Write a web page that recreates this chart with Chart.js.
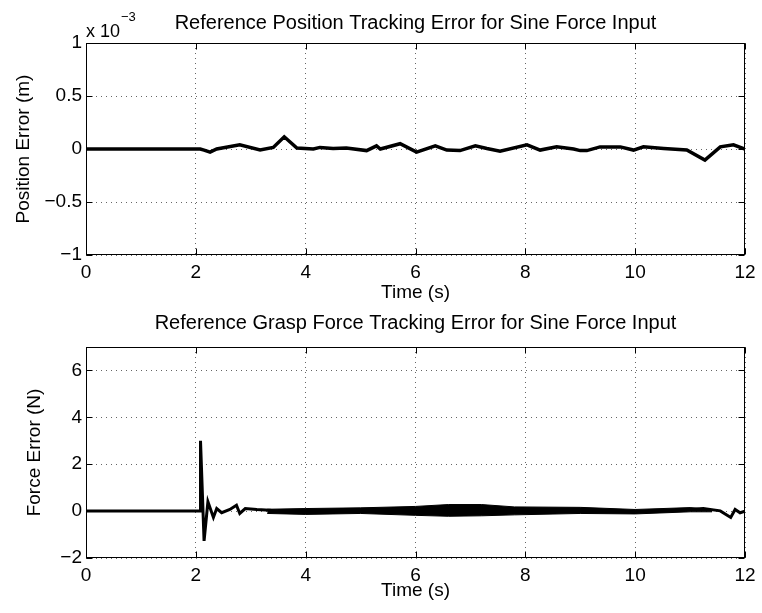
<!DOCTYPE html>
<html>
<head>
<meta charset="utf-8">
<script src="https://cdn.jsdelivr.net/npm/chart.js@4.4.1/dist/chart.umd.min.js"></script>
<style>
  body { margin: 0; background: #fff; }
  .panel { position: absolute; left: 0; width: 762px; }
  #top { top: 0; height: 306px; }
  #bottom { top: 306px; height: 307px; }
</style>
</head>
<body>
<div class="panel" id="top"><canvas id="posChart" width="762" height="306"></canvas></div>
<div class="panel" id="bottom"><canvas id="forceChart" width="762" height="307"></canvas></div>
<script>
// time axis (s)
const timeTicks = [0, 2, 4, 6, 8, 10, 12];

// position error, in units of 1e-3 m
const posTime = [0, 2.08, 2.15, 2.26, 2.38, 2.8, 3.17, 3.41, 3.61, 3.84, 4.14, 4.26, 4.5, 4.74, 5.11, 5.29, 5.36,
  5.72, 6.02, 6.36, 6.57, 6.81, 7.09, 7.3, 7.54, 8.03, 8.27, 8.57, 8.88, 9.0, 9.12, 9.36, 9.73, 9.97,
  10.15, 10.52, 10.94, 11.27, 11.55, 11.79, 12];
const posError = [0, 0, -0.01, -0.03, 0.0, 0.04, -0.01, 0.015, 0.115, 0.01, 0, 0.015, 0.005, 0.01, -0.015, 0.03, 0.0,
  0.05, -0.03, 0.03, -0.01, -0.015, 0.03, 0.005, -0.02, 0.04, -0.01, 0.02, 0.0, -0.015, -0.015, 0.02, 0.02, -0.01,
  0.02, 0.005, -0.01, -0.105, 0.02, 0.04, 0.0];
const posTickValues = [-1, -0.5, 0, 0.5, 1];
const posTickLabels = ['\u22121', '\u22120.5', '0', '0.5', '1'];

// grasp force error (N)
const forceTime = [0, 2.08, 2.085, 2.15, 2.22, 2.32, 2.38, 2.47, 2.62, 2.74, 2.8, 2.9, 3.11, 3.35, 3.53, 3.9,
  4.32, 4.81, 5.29, 5.66, 6.14, 6.75, 6.99, 7.72, 8.33, 9.0, 9.97, 10.58, 11.24, 11.55, 11.74, 11.82, 11.91, 12];
const forceError = [0, 0, 3.0, -1.27, 0.4, -0.27, 0.11, -0.07, 0.07, 0.25, -0.1, 0.11, 0.07, 0.04, -0.03, -0.06,
  -0.03, 0.04, 0.07, -0.03, 0.04, 0.07, 0.07, 0.0, 0.0, 0.07, -0.03, 0.01, 0.11, 0.01, -0.27, 0.07, -0.07, 0];
// spread of the noisy part of the force trace
const forceBandTime = [3.3, 4.0, 5.0, 6.0, 6.6, 7.2, 7.8, 9.0, 10.0, 11.0, 11.4];
const forceBandUpper = [0.08, 0.11, 0.14, 0.2, 0.28, 0.28, 0.18, 0.16, 0.07, 0.15, 0.06];
const forceBandLower = [-0.1, -0.14, -0.1, -0.18, -0.22, -0.2, -0.16, -0.1, -0.12, -0.03, -0.03];
const forceTickValues = [-2, 0, 2, 4, 6];
const forceTickLabels = ['\u22122', '0', '2', '4', '6'];

const FONT = "'Liberation Sans', Arial, Helvetica, sans-serif";
Chart.defaults.color = '#000';
Chart.defaults.font.family = FONT;

const pts = (xs, ys) => xs.map((x, i) => ({ x: x, y: ys[i] }));

// box round the plot, inward tick marks and the plot title, like the original figure
const boxAxes = {
  id: 'boxAxes',
  afterDraw(chart, args, opts) {
    const { ctx, chartArea: a, scales } = chart;
    const L = Math.round(a.left) + 0.5, R = Math.round(a.right) - 0.5;
    const T = Math.round(a.top) + 0.5, B = Math.round(a.bottom) - 0.5;
    ctx.save();
    ctx.strokeStyle = '#000';
    ctx.lineWidth = 1;
    ctx.beginPath();
    scales.x.ticks.forEach(t => {
      const px = Math.round(scales.x.getPixelForValue(t.value)) + 0.5;
      ctx.moveTo(px, B); ctx.lineTo(px, B - 6);
      ctx.moveTo(px, T); ctx.lineTo(px, T + 6);
    });
    scales.y.ticks.forEach(t => {
      const py = Math.round(scales.y.getPixelForValue(t.value)) + 0.5;
      ctx.moveTo(L, py); ctx.lineTo(L + 6, py);
      ctx.moveTo(R, py); ctx.lineTo(R - 6, py);
    });
    ctx.stroke();
    ctx.strokeRect(L, T, R - L, B - T);

    ctx.fillStyle = '#000';
    ctx.textAlign = 'center';
    ctx.textBaseline = 'alphabetic';
    ctx.font = '20px ' + FONT;
    ctx.fillText(opts.title, (a.left + a.right) / 2, opts.titleBaseline);
    ctx.restore();
  }
};

// "x 10^-3" multiplier over the top axis
const exponentLabel = {
  id: 'exponentLabel',
  afterDraw(chart) {
    const ctx = chart.ctx;
    ctx.save();
    ctx.fillStyle = '#000';
    ctx.textBaseline = 'alphabetic';
    ctx.textAlign = 'left';
    ctx.font = '18px ' + FONT;
    ctx.fillText('x 10', chart.chartArea.left, 36.5);
    const w = ctx.measureText('x 10').width;
    ctx.font = '13px ' + FONT;
    ctx.fillText('\u22123', chart.chartArea.left + w + 1, 21);
    ctx.restore();
  }
};

function makeOptions(cfg) {
  return {
    responsive: false,
    animation: false,
    devicePixelRatio: 1,
    layout: { padding: { left: 0, right: 17, top: cfg.areaTop, bottom: 0 } },
    plugins: {
      legend: { display: false },
      tooltip: { enabled: false },
      boxAxes: { title: cfg.title, titleBaseline: cfg.titleBaseline }
    },
    scales: {
      x: {
        type: 'linear',
        min: 0,
        max: 12,
        afterBuildTicks: s => { s.ticks = timeTicks.map(v => ({ value: v })); },
        afterFit: s => { s.height = cfg.xHeight; s.paddingLeft = 0; s.paddingRight = 0; },
        ticks: { font: { size: 19, lineHeight: 1 }, padding: 8.5, maxRotation: 0 },
        grid: { drawTicks: false, color: 'rgba(0,0,0,0.6)', lineWidth: 1 },
        border: { display: false, dash: [1, 4] },
        title: {
          display: true,
          text: 'Time (s)',
          font: { size: 19, lineHeight: 1.2 },
          padding: { top: 0, bottom: cfg.xTitleBottom }
        }
      },
      y: {
        type: 'linear',
        min: cfg.yMin,
        max: cfg.yMax,
        afterBuildTicks: s => { s.ticks = cfg.tickValues.map(v => ({ value: v })); },
        afterFit: s => { s.width = 86; s.paddingTop = 0; s.paddingBottom = 0; },
        ticks: {
          font: { size: 19, lineHeight: 1 },
          padding: 4,
          callback: (v, i) => cfg.tickLabels[i]
        },
        grid: { drawTicks: false, color: 'rgba(0,0,0,0.6)', lineWidth: 1 },
        border: { display: false, dash: [1, 4] },
        title: {
          display: true,
          text: cfg.yTitle,
          font: { size: 19, lineHeight: 1.2 },
          padding: { top: cfg.yTitleTop, bottom: 0 }
        }
      }
    }
  };
}

new Chart(document.getElementById('posChart'), {
  type: 'line',
  data: {
    datasets: [{
      data: pts(posTime, posError),
      borderColor: '#000',
      borderWidth: 3.5,
      pointRadius: 0,
      tension: 0,
      fill: false
    }]
  },
  options: makeOptions({
    title: 'Reference Position Tracking Error for Sine Force Input',
    titleBaseline: 28.5, areaTop: 43,
    xHeight: 51, xTitleBottom: 1.5,
    yMin: -1, yMax: 1,
    tickValues: posTickValues, tickLabels: posTickLabels,
    yTitle: 'Position Error (m)', yTitleTop: 12.1
  }),
  plugins: [boxAxes, exponentLabel]
});

new Chart(document.getElementById('forceChart'), {
  type: 'line',
  data: {
    datasets: [
      {
        data: pts(forceBandTime, forceBandUpper),
        borderColor: '#000',
        borderWidth: 1,
        backgroundColor: '#000',
        pointRadius: 0,
        tension: 0,
        fill: '+1'
      },
      {
        data: pts(forceBandTime, forceBandLower),
        borderColor: '#000',
        borderWidth: 1,
        pointRadius: 0,
        tension: 0,
        fill: false
      },
      {
        data: pts(forceTime, forceError),
        borderColor: '#000',
        borderWidth: 3,
        pointRadius: 0,
        tension: 0,
        fill: false
      }
    ]
  },
  options: makeOptions({
    title: 'Reference Grasp Force Tracking Error for Sine Force Input',
    titleBaseline: 22.5, areaTop: 41,
    xHeight: 55, xTitleBottom: 10.6,
    yMin: -2, yMax: 7,
    tickValues: forceTickValues, tickLabels: forceTickLabels,
    yTitle: 'Force Error (N)', yTitleTop: 23.6
  }),
  plugins: [boxAxes]
});
</script>
</body>
</html>
